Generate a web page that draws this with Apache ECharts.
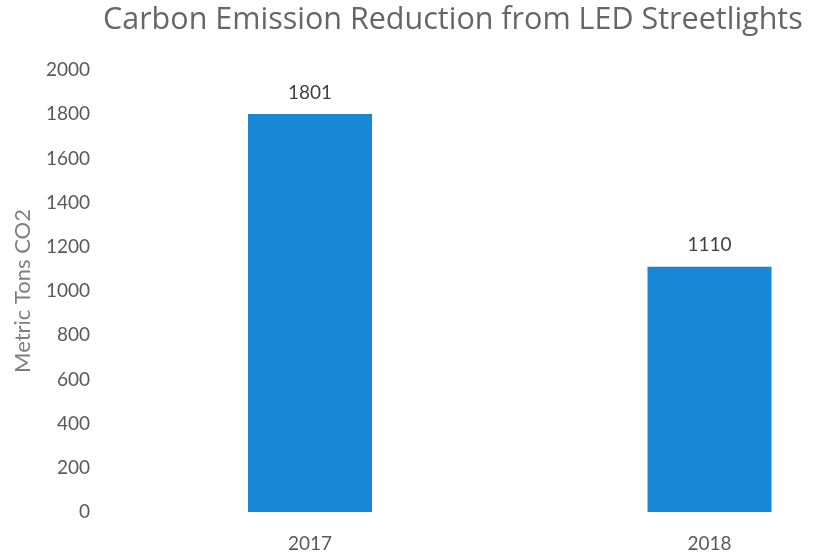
<!DOCTYPE html>
<html>
<head>
<meta charset="utf-8">
<script src="https://cdn.jsdelivr.net/npm/echarts@6/dist/echarts.min.js"></script>
<style>html,body{margin:0;padding:0;background:#fff}#c{width:813px;height:554px}</style>
</head>
<body>
<div id="c"></div>
<script>
var categories = ['2017', '2018'];
var values = [1801, 1110];
var yTicks = [0, 200, 400, 600, 800, 1000, 1200, 1400, 1600, 1800, 2000];
var titleText = 'Carbon Emission Reduction from LED Streetlights';
var yName = 'Metric Tons CO2';

var chart = echarts.init(document.getElementById('c'));
var font = 'Lato';
chart.setOption({
  animation: false,
  backgroundColor: '#ffffff',
  title: {
    text: titleText,
    left: 98, top: 0,
    textStyle: {fontFamily: 'Open Sans', fontSize: 30.5, fontWeight: 'normal', color: '#666666'}
  },
  grid: {left: 310, width: 399.5, top: 70, bottom: 42},
  xAxis: {
    type: 'category',
    data: categories,
    boundaryGap: false,
    axisLine: {show: false},
    axisTick: {show: false},
    axisLabel: {fontFamily: font, fontSize: 19, color: '#595959', margin: 22}
  },
  yAxis: {
    type: 'value',
    min: yTicks[0], max: yTicks[yTicks.length - 1], interval: 200,
    offset: 200,
    name: yName,
    nameLocation: 'middle',
    nameGap: 76,
    nameTextStyle: {fontFamily: font, fontSize: 22, color: '#7f7f7f'},
    axisLine: {show: false},
    axisTick: {show: false},
    splitLine: {show: false},
    axisLabel: {fontFamily: font, fontSize: 19, color: '#595959', margin: 20, formatter: function (v) { return String(v); }}
  },
  series: [{
    type: 'bar',
    data: values,
    barWidth: 124,
    itemStyle: {color: '#1787d6'},
    label: {show: true, position: 'top', distance: 12, fontFamily: font, fontSize: 19, color: '#404040'}
  }]
});
</script>
</body>
</html>
